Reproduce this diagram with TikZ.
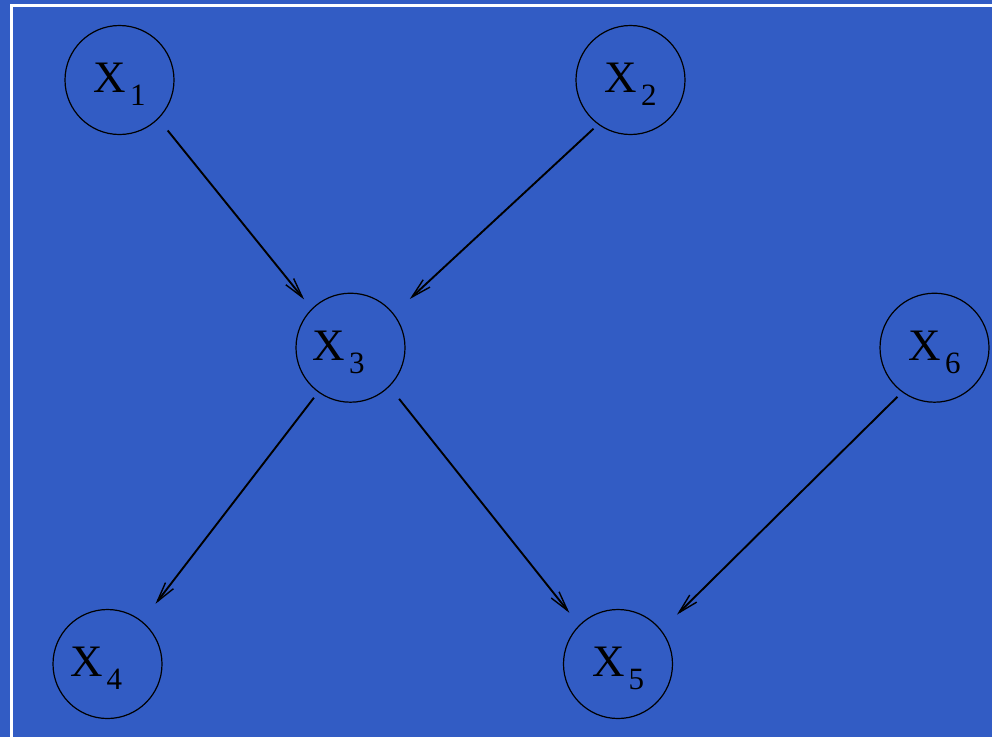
\documentclass[tikz,border=0pt]{standalone}
\usepackage{fontspec}
\setmainfont{Liberation Serif}
\usepackage{xcolor}
\usetikzlibrary{arrows.meta}

\definecolor{slideblue}{RGB}{50,92,196}

% variable name with a lowered index
\newcommand{\varname}[1]{X\hspace{4pt}\raisebox{-13pt}[0pt][0pt]{\fontsize{31}{31}\selectfont #1}}

\tikzset{
    var/.style={circle, draw=black, line width=1.2pt, minimum size=109pt, inner sep=0pt, outer sep=0pt},
    varlabel/.style={font=\fontsize{45}{45}\selectfont, inner sep=0pt},
    edge/.style={line width=1.9pt, -{Straight Barb[length=20pt, width=10pt, line width=1.4pt]}}
}

\begin{document}
\begin{tikzpicture}[x=1pt, y=-1pt]

    % ---------------------------------------------------
    % Background and frame
    % ---------------------------------------------------
    \fill[slideblue] (0,0) rectangle (992,737);
    \useasboundingbox (0,0) rectangle (992,737);
    \draw[white, line width=2.7pt] (11.3,737) -- (11.3,5.3) -- (992,5.3);

    % ---------------------------------------------------
    % Variables
    % ---------------------------------------------------
    \foreach \n/\x/\y/\dx in {1/119.5/80/0, 2/630.5/80/0, 3/350.5/347.7/-12,
                               4/107.5/664/-11.5, 5/618/664/0, 6/934.5/347.7/0} {
        \node[var] (x\n) at (\x,\y) {};
        \node[varlabel] (x\n l) at ([xshift=\dx pt, yshift=2pt]x\n) {\varname{\n}};
    }

    % ---------------------------------------------------
    % Edges: from/angle, to/angle, start gap, end gap
    % ---------------------------------------------------
    \foreach \a/\aa/\b/\ba/\sa/\sb in {1/-45.7/3/135.5/15.4/12.5,
                                       2/-126.5/3/38.4/6.8/22.3,
                                       3/-126/4/51.2/7.5/22.5,
                                       3/-45.5/5/135/16.1/16.2,
                                       6/-126.3/5/38.5/7.1/22.5} {
        \draw[edge, shorten <=\sa pt, shorten >=\sb pt] (x\a.\aa) -- (x\b.\ba);
    }

\end{tikzpicture}
\end{document}
